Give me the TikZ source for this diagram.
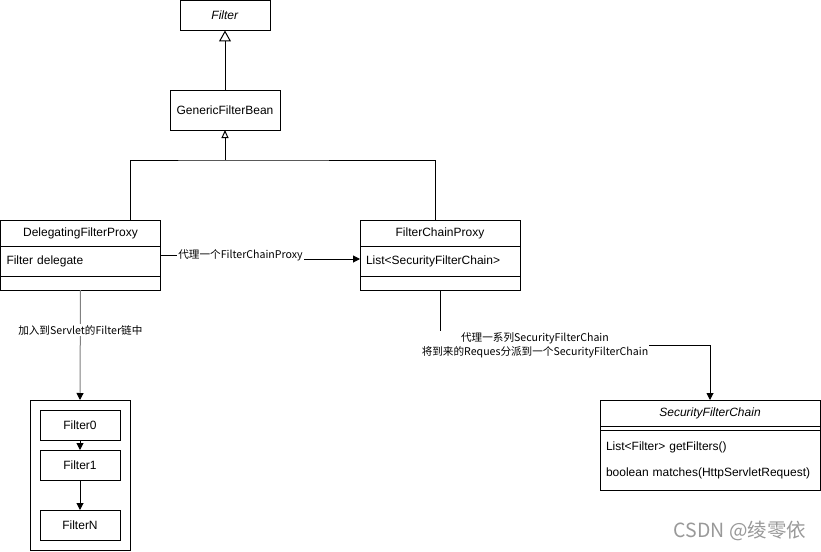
\documentclass[tikz,border=0pt]{standalone}
\usepackage{fontspec}
\setmainfont{Liberation Sans}
\newfontfamily\cjk{Noto Sans CJK SC}
\usetikzlibrary{arrows.meta}

\begin{document}
\begin{tikzpicture}[x=1pt,y=-1pt,line width=1pt,font=\fontsize{12}{14}\selectfont,
		cls/.style={draw,outer sep=0pt,inner sep=0pt,align=center},
		attr/.style={draw,outer sep=0pt,inner xsep=6pt,inner ysep=0pt,align=left},
		lbl/.style={fill=white,inner sep=1pt,align=center,font=\cjk\fontsize{10.6}{14}\selectfont},
		arr/.style={-{Triangle[length=7pt,width=7pt,color=black]}},
		inh/.style={-{Triangle[open,length=11pt,width=12pt]}},
		inhsmall/.style={-{Triangle[open,length=8pt,width=7pt]}}]
		\useasboundingbox (0,0) rectangle (821,551);
		
		%class hierarchy
		\node[cls,minimum width=90pt,minimum height=30pt] (filter) at (225,15.5) {\textit{Filter}};
		\node[cls,minimum width=110pt,minimum height=40pt] (gfb) at (225,110) {GenericFilterBean};
		\coordinate (join) at (225,160);
		
		%proxies
		\node[cls,minimum width=160pt,minimum height=26pt] (dfpHead) at (80.5,233) {DelegatingFilterProxy};
		\node[attr,text width=148pt,minimum height=30pt] (dfpAttr) at (80.5,261) {Filter delegate};
		\node[cls,minimum width=160pt,minimum height=14pt] (dfpFoot) at (80.5,283) {};
		
		\node[cls,minimum width=160pt,minimum height=26pt] (fcpHead) at (440,233) {FilterChainProxy};
		\node[attr,text width=148pt,minimum height=30pt] (fcpAttr) at (440,261) {List<SecurityFilterChain>};
		\node[cls,minimum width=160pt,minimum height=14pt] (fcpFoot) at (440,283) {};
		
		%servlet filter chain
		\node[cls,minimum width=100pt,minimum height=150pt] (chain) at (80,475) {};
		\node[cls,minimum width=80pt,minimum height=30pt] (f0) at (80,425) {Filter0};
		\node[cls,minimum width=80pt,minimum height=30pt] (f1) at (80,465) {Filter1};
		\node[cls,minimum width=80pt,minimum height=30pt] (fn) at (80,525) {FilterN};
		
		%security filter chain
		\node[cls,minimum width=220pt,minimum height=26pt] (sfcHead) at (710,413) {\textit{SecurityFilterChain}};
		\node[cls,minimum width=220pt,minimum height=4pt] (sfcSep) at (710,428) {};
		\node[attr,text width=208pt,minimum height=60pt] (sfcOps) at (710,460)
			{List<Filter> getFilters()\\[12pt]boolean matches(HttpServletRequest)};
		
		%inheritance
		\draw[inh] (gfb.north) -- (filter.south);
		\draw ([xshift=50pt]dfpHead.north) |- (join) -| ([xshift=-5pt]fcpHead.north);
		\draw[inhsmall] (join) -- (gfb.south);
		
		%delegation
		\draw[arr] ([yshift=6pt]dfpAttr.east) -- ++(80,0) node[lbl] (lblProxy) {代理一个FilterChainProxy} |- ([yshift=2pt]fcpAttr.west);
		\draw[arr,draw=gray] (dfpFoot.south) -- node[lbl,pos=0.364] (lblServlet) {加入到Servlet的Filter链中} (chain.north);
		\draw[arr] (f0.south) -- (f1.north);
		\draw[arr] (f1.south) -- (fn.north);
		\draw[arr] (fcpFoot.south) -- ++(0,55) -| (sfcHead.north);
		\node[lbl] (lblChain) at (535,345) {代理一系列SecurityFilterChain\\将到来的Reques分派到一个SecurityFilterChain};
		
		%watermark
		\node[text=gray!80,font=\cjk\fontsize{19.5}{22}\selectfont] (mark) at (740,531) {CSDN @绫零依};
		
\end{tikzpicture}
\end{document}
